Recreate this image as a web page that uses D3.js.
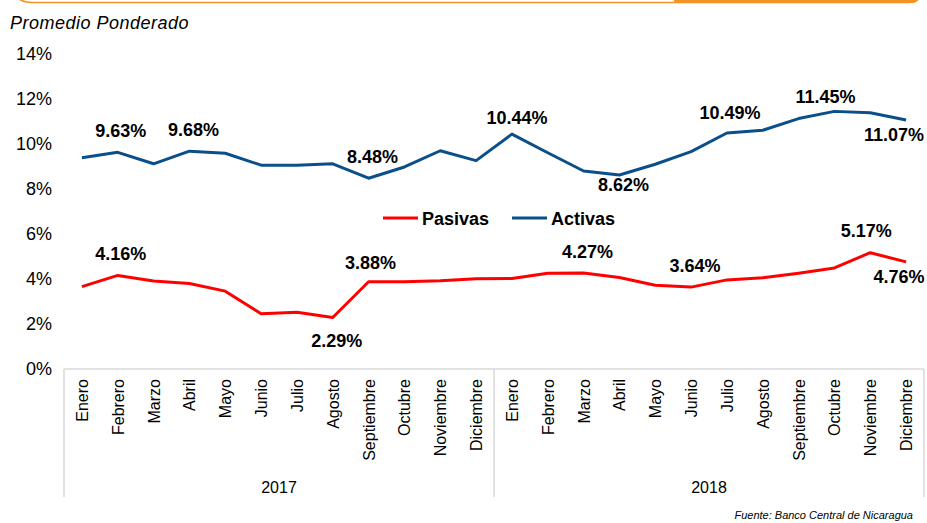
<!DOCTYPE html>
<html>
<head>
<meta charset="utf-8">
<script src="https://cdn.jsdelivr.net/npm/d3@7"></script>
<style>
  body { margin: 0; background: #fff; }
  svg { display: block; font-family: "Liberation Sans", Arial, sans-serif; }
</style>
</head>
<body>
<div id="chart"></div>
<script>
// meses y años
const meses = ["Enero", "Febrero", "Marzo", "Abril", "Mayo", "Junio", "Julio", "Agosto",
  "Septiembre", "Octubre", "Noviembre", "Diciembre"];
const anios = ["2017", "2018"];

// tasas en %
const activas = [9.39, 9.63, 9.12, 9.68, 9.59, 9.06, 9.06, 9.12, 8.48, 8.98, 9.70, 9.26,
  10.44, 9.61, 8.80, 8.62, 9.10, 9.66, 10.49, 10.61, 11.13, 11.45, 11.39, 11.07];
const pasivas = [3.66, 4.16, 3.91, 3.80, 3.46, 2.46, 2.52, 2.29, 3.88, 3.88, 3.92, 4.01,
  4.02, 4.26, 4.27, 4.07, 3.72, 3.64, 3.96, 4.06, 4.26, 4.49, 5.17, 4.76];

// puntos con etiqueta
const activasEtiquetas = [1, 3, 8, 12, 15, 18, 21, 23];
const pasivasEtiquetas = [1, 7, 8, 14, 17, 22, 23];

const yTicks = [0, 2, 4, 6, 8, 10, 12, 14];

const width = 927, height = 523;

const svg = d3.select("#chart").append("svg")
    .attr("width", width)
    .attr("height", height);

// borde naranja de arriba (resto del recuadro)
svg.append("path")
    .attr("d", "M14,-8 Q18,2.5 32,2.5 H908 Q920,2.5 923,-8")
    .style("fill", "none")
    .style("stroke", "#f39325")
    .style("stroke-width", 1.6);
svg.append("rect")
    .attr("x", 674).attr("y", -3)
    .attr("width", 242).attr("height", 6)
    .attr("rx", 3)
    .style("fill", "#f39325");

// categorias: 24 meses
const cats = d3.range(anios.length * meses.length);

const x = d3.scaleBand()
    .domain(cats)
    .range([64, 924]);

const y = d3.scaleLinear()
    .domain([0, 14])
    .range([369, 54]);

// titulo
svg.append("text")
    .attr("x", 10).attr("y", 29)
    .style("font-size", "18px")
    .style("font-style", "italic")
    .style("letter-spacing", "0.5px")
    .text("Promedio Ponderado");

// eje Y (solo etiquetas)
const yAxis = d3.axisLeft(y)
    .tickValues(yTicks)
    .tickFormat(d => d + "%")
    .tickSize(0)
    .tickPadding(0);

const gy = svg.append("g")
    .attr("transform", "translate(52,0)")
    .call(yAxis);
gy.select(".domain").remove();
gy.selectAll("text")
    .style("font-size", "18px")
    .style("font-family", "Liberation Sans, Arial, sans-serif")
    .attr("fill", "#000");

// caja del eje X
const gridColor = "#d9d9d9";
svg.append("line")
    .attr("x1", x.range()[0]).attr("x2", x.range()[1])
    .attr("y1", y(0)).attr("y2", y(0))
    .style("stroke", gridColor).style("stroke-width", 1.5);

const separadores = d3.range(anios.length + 1).map(i => x.range()[0] + i * meses.length * x.bandwidth());
svg.selectAll(".sep").data(separadores).enter().append("line")
    .attr("class", "sep")
    .attr("x1", d => d).attr("x2", d => d)
    .attr("y1", y(0)).attr("y2", 497)
    .style("stroke", gridColor).style("stroke-width", 1.5);

// nombres de meses
svg.selectAll(".mes").data(cats).enter().append("text")
    .attr("class", "mes")
    .attr("transform", d => "translate(" + (x(d) + x.bandwidth() / 2 + 6) + ",379) rotate(-90)")
    .attr("text-anchor", "end")
    .style("font-size", "16px")
    .text(d => meses[d % meses.length]);

// años
svg.selectAll(".anio").data(anios).enter().append("text")
    .attr("class", "anio")
    .attr("x", (d, i) => (separadores[i] + separadores[i + 1]) / 2)
    .attr("y", 493)
    .attr("text-anchor", "middle")
    .style("font-size", "16px")
    .text(d => d);

// lineas
const line = d3.line()
    .x((d, i) => x(i) + x.bandwidth() / 2)
    .y(d => y(d));

const colorActivas = "#0b4f8a";
const colorPasivas = "#ff0000";

svg.append("path")
    .attr("d", line(activas))
    .style("fill", "none")
    .style("stroke", colorActivas)
    .style("stroke-width", 3)
    .style("stroke-linejoin", "round");

svg.append("path")
    .attr("d", line(pasivas))
    .style("fill", "none")
    .style("stroke", colorPasivas)
    .style("stroke-width", 3)
    .style("stroke-linejoin", "round");

// etiquetas de datos: desplazamiento [dx, dy] respecto al punto
const offActivas = {1: [3, -15], 3: [4, -15], 8: [4, -15], 12: [5, -10], 15: [4, 16], 18: [3, -14], 21: [-9, -8], 23: [-12, 21]};
const offPasivas = {1: [3, -15], 7: [4, 30], 8: [2, -13], 14: [4, -15], 17: [4, -15], 22: [-4, -16], 23: [-7, 21]};

function etiquetas(data, idx, off) {
  svg.selectAll(null).data(idx).enter().append("text")
      .attr("x", i => x(i) + x.bandwidth() / 2 + off[i][0])
      .attr("y", i => y(data[i]) + off[i][1])
      .attr("text-anchor", "middle")
      .style("font-size", "18px")
      .style("font-weight", "bold")
      .text(i => data[i].toFixed(2) + "%");
}
etiquetas(activas, activasEtiquetas, offActivas);
etiquetas(pasivas, pasivasEtiquetas, offPasivas);

// leyenda
const leyenda = [
  {name: "Pasivas", color: colorPasivas, x: 383},
  {name: "Activas", color: colorActivas, x: 512}
];
const gl = svg.selectAll(".leg").data(leyenda).enter().append("g")
    .attr("class", "leg")
    .attr("transform", d => "translate(" + d.x + ",218)");
gl.append("line")
    .attr("x1", 0).attr("x2", 35)
    .style("stroke", d => d.color)
    .style("stroke-width", 3);
gl.append("text")
    .attr("x", 39).attr("y", 6.5)
    .style("font-size", "18px")
    .style("font-weight", "bold")
    .text(d => d.name);

// fuente
svg.append("text")
    .attr("x", 913).attr("y", 519)
    .attr("text-anchor", "end")
    .style("font-size", "11px")
    .style("font-style", "italic")
    .text("Fuente: Banco Central de Nicaragua");
</script>
</body>
</html>
